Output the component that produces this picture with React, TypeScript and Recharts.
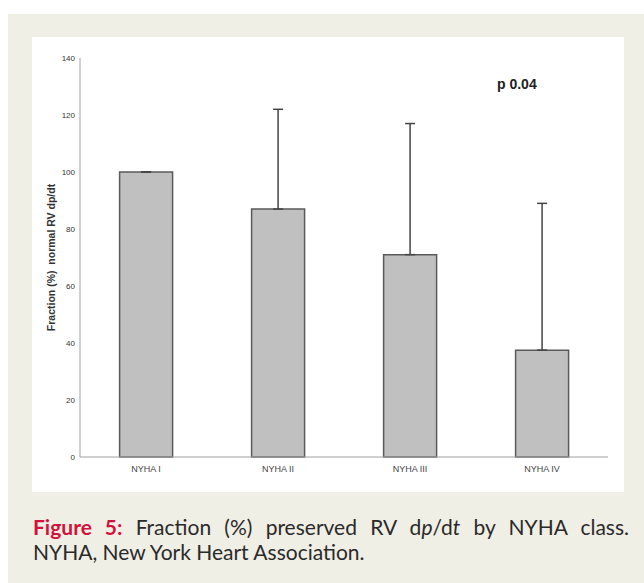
import React from "react";
import { BarChart, Bar, XAxis, YAxis, ErrorBar } from "recharts";

const CATEGORIES = ["NYHA I", "NYHA II", "NYHA III", "NYHA IV"];
const FRACTION = [100, 87, 71, 37.5];
const ERROR_UP = [0, 35, 46, 51.5];
const Y_TICKS = [0, 20, 40, 60, 80, 100, 120, 140];

const FONT = "Liberation Sans, Arial, sans-serif";

export default function App() {
  var chartData: { name: string; value: number; err: number[] }[] = [];
  for (var i = 0; i < CATEGORIES.length; i++) {
    chartData.push({
      name: CATEGORIES[i],
      value: FRACTION[i],
      err: [0, ERROR_UP[i]],
    });
  }

  function renderYLabel(props: any) {
    var vb = props.viewBox;
    var cy = vb.y + vb.height / 2;
    return (
      <text
        x={19}
        y={cy}
        transform={"rotate(-90, 19, " + cy + ")"}
        textAnchor="middle"
        dominantBaseline="central"
        style={{ fontFamily: FONT, fontSize: 10.5, fontWeight: 700, fill: "#333" }}
      >
        {"Fraction (%)\u00a0 normal RV dp/dt"}
      </text>
    );
  }

  return (
    <div style={styles.page}>
      <div style={styles.beige} />
      <div style={styles.panel}>
        <BarChart
          width={592}
          height={455}
          data={chartData}
          margin={{ top: 21, right: 16, left: 0, bottom: 15 }}
          barCategoryGap="30%"
        >
          <XAxis
            dataKey="name"
            stroke="#a0a0a0"
            tickLine={false}
            tickSize={0}
            tickMargin={9}
            height={20}
            tick={{ fontSize: 9, fill: "#444", fontFamily: FONT }}
          />
          <YAxis
            domain={[0, 140]}
            ticks={Y_TICKS}
            width={48}
            stroke="#a0a0a0"
            tickLine={false}
            tickSize={0}
            tickMargin={5}
            interval={0}
            tick={{ fontSize: 8, fill: "#333", fontFamily: FONT }}
            label={{ content: renderYLabel }}
          />
          <Bar dataKey="value" fill="#c0c0c0" stroke="#5a5a5a" strokeWidth={1.5} isAnimationActive={false}>
            <ErrorBar dataKey="err" width={5} stroke="#444" strokeWidth={1.5} direction="y" />
          </Bar>
        </BarChart>
        <div style={styles.pValue}>p 0.04</div>
      </div>
      <div style={styles.caption}>
        <div style={styles.line1}>
          <span style={styles.figLabel}>Figure 5:</span> Fraction (%) preserved RV d<i>p</i>/d<i>t</i> by NYHA class.
        </div>
        <div>NYHA, New York Heart Association.</div>
      </div>
    </div>
  );
}

const styles = {
  page: {
    position: "absolute" as const,
    left: 0,
    top: 0,
    width: 644,
    height: 583,
    overflow: "hidden" as const,
    background: "#ffffff",
  },
  beige: {
    position: "absolute" as const,
    left: 8,
    top: 14,
    width: 636,
    height: 569,
    background: "#f0efe5",
  },
  panel: {
    position: "absolute" as const,
    left: 32,
    top: 37,
    width: 592,
    height: 455,
    background: "#ffffff",
  },
  pValue: {
    position: "absolute" as const,
    left: 465,
    top: 39,
    fontFamily: FONT,
    fontSize: 14,
    fontWeight: 700,
    color: "#222",
  },
  caption: {
    position: "absolute" as const,
    left: 33,
    top: 514,
    width: 596,
    fontFamily: "Lato, sans-serif",
    fontSize: 21,
    lineHeight: "25px",
    color: "#2a2a2a",
  },
  line1: {
    textAlign: "justify" as const,
    textAlignLast: "justify" as const,
    whiteSpace: "nowrap" as const,
  },
  figLabel: {
    color: "#d2123c",
    fontWeight: 700,
  },
};
